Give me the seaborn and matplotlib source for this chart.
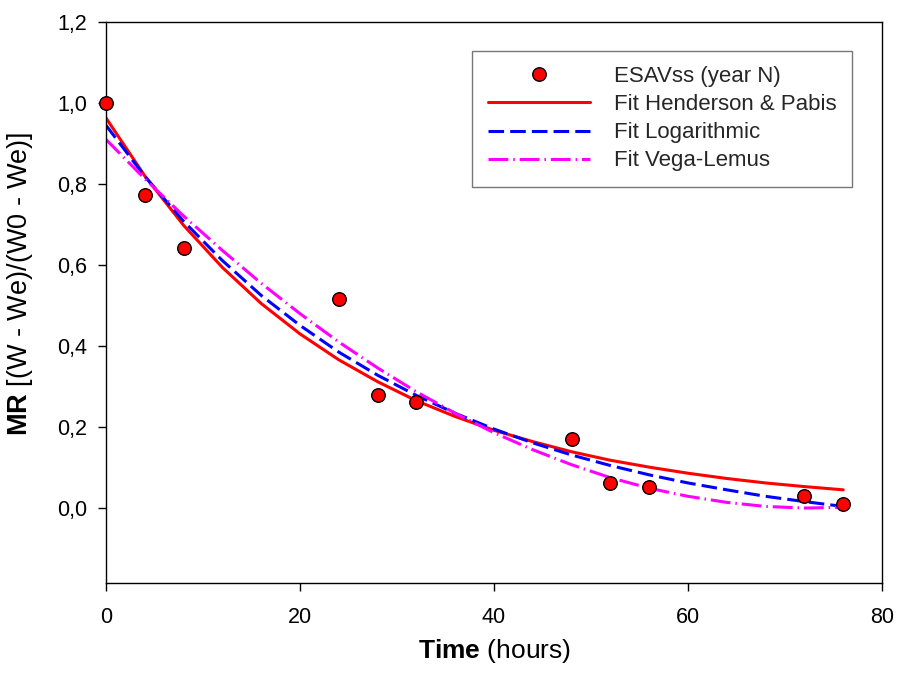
import numpy as np
import pandas as pd
import matplotlib
matplotlib.use("Agg")
import matplotlib.pyplot as plt
from matplotlib.lines import Line2D
from matplotlib.ticker import FuncFormatter
import seaborn as sns

# ---- data ----
time_obs = [0, 4, 8, 24, 28, 32, 48, 52, 56, 72, 76]
mr_obs = [1.000, 0.773, 0.641, 0.515, 0.278, 0.262, 0.170, 0.062, 0.052, 0.030, 0.009]

time_fit = [0, 4, 8, 12, 16, 20, 24, 28, 32, 36, 40, 44, 48, 52, 56, 60, 64, 68, 72, 76]
mr_henderson = [0.963, 0.820, 0.698, 0.594, 0.505, 0.430, 0.366, 0.312, 0.265, 0.226,
                0.192, 0.164, 0.139, 0.118, 0.101, 0.086, 0.073, 0.062, 0.053, 0.045]
mr_logarithmic = [0.945, 0.819, 0.708, 0.611, 0.525, 0.451, 0.385, 0.328, 0.278, 0.234,
                  0.195, 0.161, 0.131, 0.105, 0.082, 0.062, 0.045, 0.029, 0.016, 0.004]
mr_vega = [0.910, 0.813, 0.721, 0.636, 0.555, 0.480, 0.410, 0.346, 0.287, 0.234,
           0.186, 0.144, 0.107, 0.075, 0.049, 0.029, 0.014, 0.004, 0.000, 0.002]

labels = ["ESAVss (year N)", "Fit Henderson & Pabis", "Fit Logarithmic", "Fit Vega-Lemus"]
x_ticks = [0, 20, 40, 60, 80]
y_ticks = [0.0, 0.2, 0.4, 0.6, 0.8, 1.0, 1.2]

sns.set_theme(style="white")
plt.rcParams["font.family"] = ["Liberation Sans", "DejaVu Sans"]
plt.rcParams["mathtext.fontset"] = "custom"
plt.rcParams["mathtext.rm"] = "Liberation Sans"
plt.rcParams["mathtext.bf"] = "Liberation Sans:bold"

fig = plt.figure(figsize=(8.97, 6.73), dpi=100)
W, H = 897, 673
left, right, top, bottom = 106, 882, 22, 583
ax = fig.add_axes([left / W, 1 - bottom / H, (right - left) / W, (bottom - top) / H])

df_fit = pd.DataFrame({"t": time_fit, "hp": mr_henderson, "log": mr_logarithmic, "vl": mr_vega})
df_obs = pd.DataFrame({"t": time_obs, "mr": mr_obs})

lw = 2.2
dash_log = [5.1, 2.0]
dash_vl = [6.5, 1.6, 0.5, 1.6]
sns.lineplot(data=df_fit, x="t", y="hp", color="#ff0000", lw=lw, ax=ax, zorder=2)
sns.lineplot(data=df_fit, x="t", y="log", color="#0000ff", lw=lw, ax=ax, zorder=2)
ax.lines[-1].set_dashes(dash_log)
sns.lineplot(data=df_fit, x="t", y="vl", color="#ff00ff", lw=lw, ax=ax, zorder=2)
ax.lines[-1].set_dashes(dash_vl)

sns.scatterplot(data=df_obs, x="t", y="mr", color="#ff0000", edgecolor="black",
                linewidth=1.0, s=95, ax=ax, zorder=3, clip_on=False)

ax.set_xlim(0, 80)
ax.set_ylim(-0.185, 1.2)
ax.set_xticks(x_ticks)
ax.set_yticks(y_ticks)
ax.yaxis.set_major_formatter(FuncFormatter(lambda v, p: f"{v:.1f}".replace(".", ",")))
ax.xaxis.set_major_formatter(FuncFormatter(lambda v, p: f"{v:.0f}"))

for s in ax.spines.values():
    s.set_visible(True)
    s.set_color("black")
    s.set_linewidth(1.0)

ax.tick_params(axis="both", which="major", direction="out", length=5.5, width=1.0,
               color="black", labelsize=15.5, labelcolor="black",
               bottom=True, left=True, top=False, right=False)
ax.tick_params(axis="y", pad=8)
ax.tick_params(axis="x", pad=12)

ax.set_xlabel(r"$\mathbf{Time}$ (hours)", fontsize=19, color="black")
ax.set_ylabel(r"$\mathbf{MR}$ [(W - We)/(W0 - We)]", fontsize=19.5, color="black")
ax.xaxis.label.set_va("baseline")
ax.xaxis.set_label_coords(0.5, -(658 - bottom) / (bottom - top))
ax.yaxis.set_label_coords(-0.091, 0.533)

handles = [
    Line2D([], [], ls="none", marker="o", markersize=9.7, markerfacecolor="#ff0000",
           markeredgecolor="black", markeredgewidth=1.0),
    Line2D([], [], color="#ff0000", lw=lw),
    Line2D([], [], color="#0000ff", lw=lw, dashes=dash_log),
    Line2D([], [], color="#ff00ff", lw=lw, dashes=dash_vl),
]
leg = ax.legend(handles, labels, loc="upper right",
                bbox_to_anchor=((852 - left) / (right - left), (bottom - 51) / (bottom - top)),
                borderaxespad=0, fontsize=16, frameon=True, fancybox=False,
                handlelength=4.6, handletextpad=1.1, labelspacing=0.32, borderpad=0.68)
leg.get_frame().set_edgecolor("#555555")
leg.get_frame().set_linewidth(1.0)

ax.set_facecolor("white")
fig.patch.set_facecolor("white")
fig.savefig("out.png", dpi=100, facecolor="white")
